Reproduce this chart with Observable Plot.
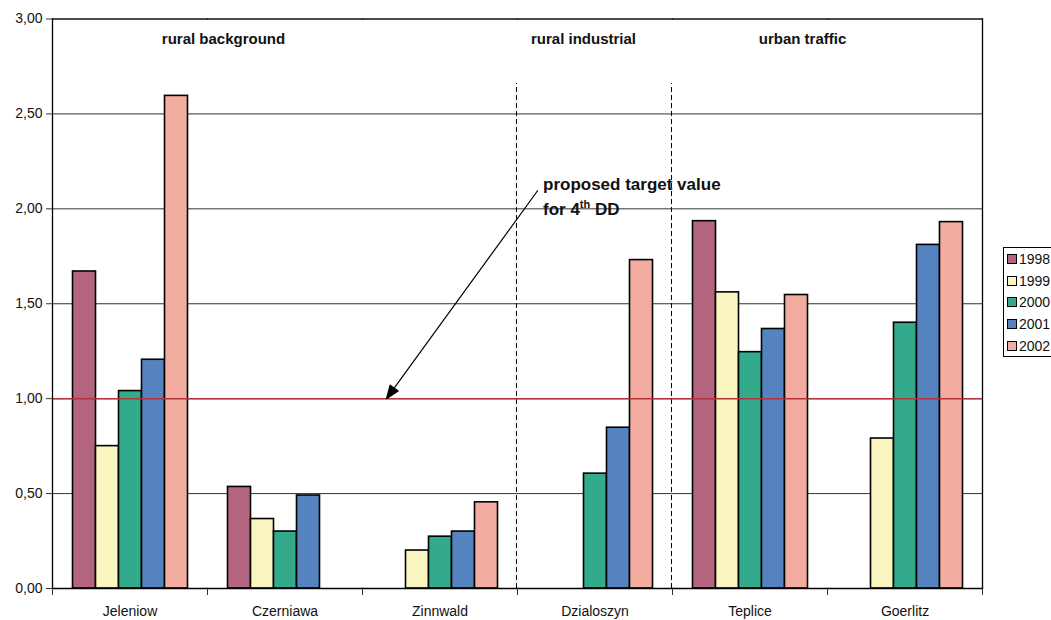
<!DOCTYPE html>
<html><head><meta charset="utf-8">
<script src="https://cdn.jsdelivr.net/npm/d3@7"></script>
<script src="https://cdn.jsdelivr.net/npm/@observablehq/plot@0.6"></script>
<style>
html,body{margin:0;padding:0;background:#fff;overflow:hidden;}
#wrap{position:relative;width:1051px;height:620px;overflow:hidden;}
#legend{position:absolute;left:1003px;top:247px;width:70px;height:110px;border:1px solid #000;background:#fff;
  font:14px "Liberation Sans",Arial,sans-serif;color:#111;box-sizing:border-box;padding-top:0px}
.item{display:flex;align-items:center;height:21.8px;padding-left:3px}
.sw{width:8px;height:8px;border:1px solid #000;margin-right:2px;flex:none}
</style></head><body><div id="wrap"><div id="chart"></div><div id="legend"></div></div>
<script>
const sites = ["Jeleniow","Czerniawa","Zinnwald","Dzialoszyn","Teplice","Goerlitz"];
const years = ["1998","1999","2000","2001","2002"];
const v1998 = [1.67, 0.535, null, null, 1.935, null];
const v1999 = [0.75, 0.366, 0.20, null, 1.56, 0.79];
const v2000 = [1.04, 0.30, 0.273, 0.605, 1.245, 1.40];
const v2001 = [1.205, 0.49, 0.30, 0.847, 1.367, 1.81];
const v2002 = [2.595, null, 0.454, 1.73, 1.546, 1.93];
const colors = ["#B3647F","#FAF5C0","#33AA8C","#5483C0","#F2ADA0"];
const yTicks = [0, 0.5, 1, 1.5, 2, 2.5, 3];
const targetValue = 1.0;
const dividerSites = ["Dzialoszyn","Teplice"];
const dividerTop = 2.66;
const annotation1 = "proposed target value";
const annotation2 = "for 4th DD";

const series = [v1998, v1999, v2000, v2001, v2002];
const table = [];
years.forEach((yr, j) => sites.forEach((s, i) => {
  if (series[j][i] != null) table.push({site: s, year: yr, value: series[j][i]});
}));

const W = 1051, H = 620, mL = 51.5, mR = 69, mT = 18.5, mB = 32;
const padOuter = 0.73;
const facetW = (W - mL - mR) / sites.length;
const step = facetW / (years.length + 2 * padOuter);
const bandStartToCenter = padOuter * step + step / 2;
const font = "Liberation Sans, Arial, Helvetica, sans-serif";
const fmt = d => d.toFixed(2).replace(".", ",");

const arrowShape = {
  draw(ctx, l) {
    const h = 13, w = 5;
    ctx.moveTo(0, 0); ctx.lineTo(0, -l + h);
    ctx.moveTo(0, -l); ctx.lineTo(-w, -l + h); ctx.lineTo(w, -l + h); ctx.closePath();
  }
};

const chart = Plot.plot({
  width: W, height: H,
  marginLeft: mL, marginRight: mR, marginTop: mT, marginBottom: mB,
  style: {fontFamily: font, color: "#111", background: "#fff", overflow: "visible"},
  fx: {domain: sites, padding: 0, axis: null, label: null},
  x: {domain: years, paddingInner: 0, paddingOuter: padOuter, axis: null},
  y: {domain: [0, 3], axis: null},
  color: {domain: years, range: colors},
  marks: [
    Plot.gridY(yTicks, {stroke: "#333", strokeOpacity: 1, strokeWidth: 1}),
    Plot.ruleX(dividerSites.map(s => ({site: s})), {fx: "site", x: () => years[0], y1: 0, y2: dividerTop,
      dx: -bandStartToCenter - 3.5, stroke: "#000", strokeDasharray: "5,3", strokeWidth: 1}),
    Plot.barY(table, {fx: "site", x: "year", y: "value", fill: "year", stroke: "#000", strokeWidth: 1.6}),
    Plot.ruleY([targetValue], {stroke: "#b3333b", strokeWidth: 1.5}),
    Plot.frame({anchor: "top", stroke: "#000"}),
    Plot.frame({anchor: "bottom", stroke: "#000", strokeWidth: 1.3}),
    Plot.frame({anchor: "left", facetAnchor: "left", stroke: "#000", strokeWidth: 1.3}),
    Plot.frame({anchor: "right", facetAnchor: "right", stroke: "#000", strokeWidth: 1.3}),
    Plot.frame({anchor: "left", insetTop: H - mT - mB, insetBottom: -6, stroke: "#333"}),
    Plot.frame({anchor: "right", facetAnchor: "right", insetTop: H - mT - mB, insetBottom: -6, stroke: "#333"}),
    Plot.axisY(yTicks, {tickFormat: fmt, tickSize: 6, tickPadding: 4, fontSize: 14, label: null, stroke: "#333"}),
    Plot.axisFx({anchor: "bottom", tickSize: 0, tickPadding: 18, fontSize: 14, label: null}),
    Plot.text([{site: "Czerniawa"}], {fx: "site", text: () => "rural background", frameAnchor: "top-left",
      dx: 16, dy: 14, lineAnchor: "top", textAnchor: "middle", fontWeight: "bold", fontSize: 15}),
    Plot.text([{site: "Dzialoszyn"}], {fx: "site", text: () => "rural industrial", frameAnchor: "top-left",
      dx: 66, dy: 14, lineAnchor: "top", textAnchor: "middle", fontWeight: "bold", fontSize: 15}),
    Plot.text([{site: "Teplice"}], {fx: "site", text: () => "urban traffic", frameAnchor: "top-left",
      dx: 130, dy: 14, lineAnchor: "top", textAnchor: "middle", fontWeight: "bold", fontSize: 15}),
    Plot.text([{site: "Dzialoszyn"}], {fx: "site", text: () => annotation1, frameAnchor: "top-left",
      dx: 25.5, dy: 158.5, lineAnchor: "top", textAnchor: "start", fontWeight: "bold", fontSize: 17}),
    Plot.text([{site: "Dzialoszyn"}], {fx: "site", text: () => annotation2, frameAnchor: "top-left",
      dx: 25.5, dy: 183.5, lineAnchor: "top", textAnchor: "start", fontWeight: "bold", fontSize: 17}),
    Plot.vector([{site: "Zinnwald"}], {fx: "site", x: () => years[0], y: () => targetValue, dx: -8,
      anchor: "end", length: 257, rotate: 216, shape: arrowShape, stroke: "#000", fill: "#000", strokeWidth: 1.2})
  ]
});
document.getElementById("chart").appendChild(chart);

// superscript "th"
const NS = "http://www.w3.org/2000/svg";
chart.querySelectorAll("text").forEach(t => {
  if (t.textContent === annotation2) {
    t.textContent = "";
    const a = document.createElementNS(NS, "tspan"); a.textContent = "for 4";
    const b = document.createElementNS(NS, "tspan"); b.textContent = "th";
    b.setAttribute("font-size", "11"); b.setAttribute("dy", "-7");
    const c = document.createElementNS(NS, "tspan"); c.textContent = " DD"; c.setAttribute("dy", "7");
    t.append(a, b, c);
  }
});

// legend
const lg = document.getElementById("legend");
years.forEach((yr, j) => {
  const it = document.createElement("div"); it.className = "item";
  const sw = document.createElement("span"); sw.className = "sw"; sw.style.background = colors[j];
  const tx = document.createElement("span"); tx.textContent = yr;
  it.append(sw, tx); lg.appendChild(it);
});
</script>
</body></html>
